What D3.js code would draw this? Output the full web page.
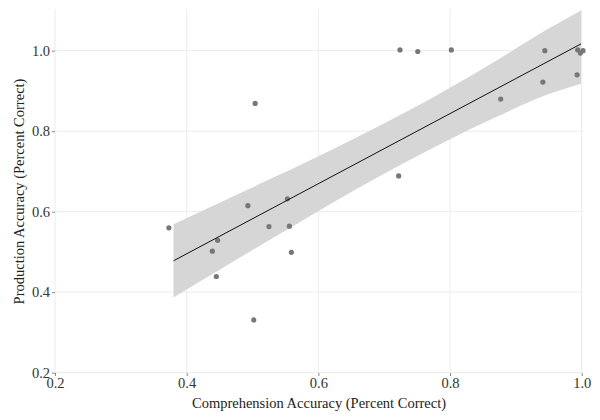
<!DOCTYPE html>
<html>
<head>
<meta charset="utf-8">
<script src="https://cdn.jsdelivr.net/npm/d3@7"></script>
<style>
  html, body { margin: 0; padding: 0; background: #fff; }
  text { font-family: "Liberation Serif", "Times New Roman", serif; }
</style>
</head>
<body>
<svg id="chart" width="600" height="420"></svg>
<script>
// Data
const comprehension = [0.373, 0.439, 0.447, 0.445, 0.493, 0.502, 0.504, 0.525, 0.556, 0.559, 0.553,
                       0.722, 0.724, 0.751, 0.802, 0.877, 0.941, 0.944, 0.993, 0.994, 0.998, 1.002];
const production    = [0.560, 0.502, 0.529, 0.439, 0.615, 0.331, 0.869, 0.563, 0.564, 0.499, 0.632,
                       0.689, 1.002, 0.998, 1.002, 0.880, 0.922, 1.000, 0.940, 1.002, 0.994, 1.000];

// Fitted regression line and confidence band
const fitX = [0.38, 0.999];
const fitY = [0.478, 1.017];
const bandX    = [0.38, 0.45, 0.52, 0.59, 0.66, 0.73, 0.80, 0.87, 0.94, 0.999];
const bandLow  = [0.387, 0.456, 0.524, 0.592, 0.658, 0.721, 0.780, 0.835, 0.886, 0.918];
const bandHigh = [0.569, 0.622, 0.676, 0.730, 0.786, 0.845, 0.908, 0.975, 1.046, 1.100];

const xTicks = [0.2, 0.4, 0.6, 0.8, 1.0];
const yTicks = [0.2, 0.4, 0.6, 0.8, 1.0];
const xTitle = "Comprehension Accuracy (Percent Correct)";
const yTitle = "Production Accuracy (Percent Correct)";

const svg = d3.select("#chart");
const x = d3.scaleLinear().domain([0.2, 1.0]).range([55, 581.7]);
const y = d3.scaleLinear().domain([0.2, 1.0]).range([372.7, 50.7]);
const panel = { left: 55, right: 583, top: 9, bottom: 373 };

// grid
const grid = svg.append("g");
grid.selectAll("line.h").data(yTicks).enter().append("line")
  .attr("x1", panel.left).attr("x2", panel.right)
  .attr("y1", d => y(d)).attr("y2", d => y(d))
  .attr("stroke", "#ececec").attr("stroke-width", 1);
grid.selectAll("line.v").data(xTicks).enter().append("line")
  .attr("y1", panel.top).attr("y2", panel.bottom)
  .attr("x1", d => x(d)).attr("x2", d => x(d))
  .attr("stroke", "#ececec").attr("stroke-width", 1);

// confidence band
const bandData = bandX.map((v, i) => ({ x: v, lo: bandLow[i], hi: bandHigh[i] }));
svg.append("path").datum(bandData)
  .attr("d", d3.area().x(d => x(d.x)).y0(d => y(d.lo)).y1(d => y(d.hi)).curve(d3.curveMonotoneX))
  .attr("fill", "#d6d6d6");

// points
svg.append("g").selectAll("circle").data(comprehension).enter().append("circle")
  .attr("cx", d => x(d))
  .attr("cy", (d, i) => y(production[i]))
  .attr("r", 2.6)
  .attr("fill", "#777777");

// fitted line
svg.append("path").datum(fitX.map((v, i) => [v, fitY[i]]))
  .attr("d", d3.line().x(d => x(d[0])).y(d => y(d[1])))
  .attr("fill", "none").attr("stroke", "#111").attr("stroke-width", 1);

// axes
const xAxis = d3.axisBottom(x).tickValues(xTicks).tickFormat(d3.format(".1f")).tickSize(3).tickPadding(2);
const yAxis = d3.axisLeft(y).tickValues(yTicks).tickFormat(d3.format(".1f")).tickSize(3).tickPadding(2);
const gx = svg.append("g").attr("transform", `translate(0,${panel.bottom})`).call(xAxis);
const gy = svg.append("g").attr("transform", `translate(${panel.left},0)`).call(yAxis);
[gx, gy].forEach(g => {
  g.select(".domain").remove();
  g.selectAll(".tick line").attr("stroke", "#8a8a8a");
  g.selectAll(".tick text").attr("fill", "#333").style("font-size", "14.5px")
    .style("font-family", '"Liberation Serif", serif');
});

// titles
svg.append("text").attr("x", (panel.left + panel.right) / 2).attr("y", 408)
  .attr("text-anchor", "middle").attr("fill", "#222").style("font-size", "14.5px")
  .text(xTitle);
svg.append("text").attr("transform", `translate(24,191.5) rotate(-90)`)
  .attr("text-anchor", "middle").attr("fill", "#222").style("font-size", "14.5px")
  .text(yTitle);
</script>
</body>
</html>
